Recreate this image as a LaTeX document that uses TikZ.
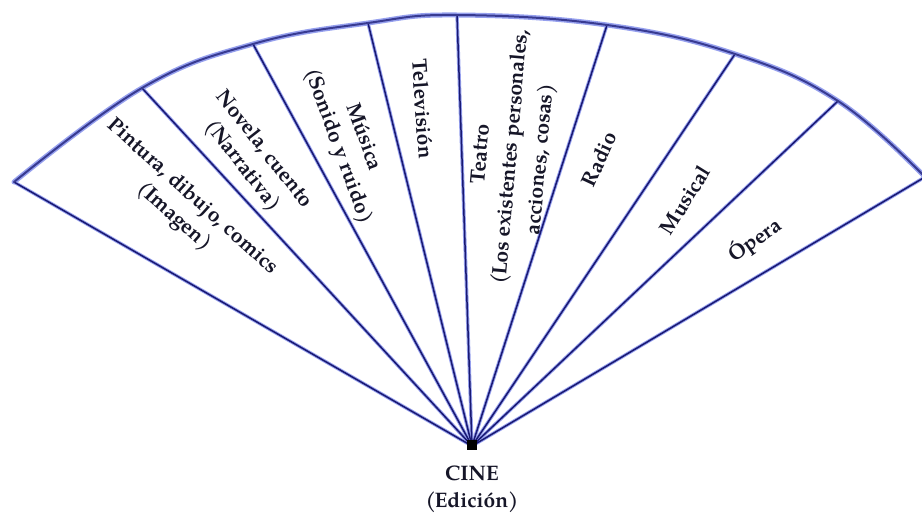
\documentclass[tikz,border=0pt]{standalone}
\usepackage{fontspec}
\setmainfont{TeX Gyre Pagella}
\definecolor{linec}{RGB}{25,25,115}
\definecolor{glowc}{RGB}{150,160,238}
\definecolor{textc}{RGB}{22,22,40}
\newcommand{\lp}{(\kern-0.06em}
\tikzset{
  rayglow/.style={draw=glowc, line width=3.4pt, line cap=round},
  raycore/.style={draw=linec, line width=1.5pt, line cap=round},
  arcglow/.style={draw=glowc, line width=5pt, line cap=round, line join=round},
  arccore/.style={draw=linec!75!glowc, line width=2pt, line cap=round, line join=round},
  lbl/.style={text=textc, font=\bfseries\fontsize{21}{27}\selectfont, align=center, inner sep=0pt}
}
\begin{document}
\begin{tikzpicture}[x=1pt,y=-1pt]
\useasboundingbox (0,0) rectangle (922,512);
\fill[white] (0,0) rectangle (922,512);
\coordinate (A) at (472,446);
\coordinate (P1) at (14,182);
\coordinate (P2) at (142,88);
\coordinate (P3) at (253,44);
\coordinate (P4) at (368,23);
\coordinate (P5) at (457,15);
\coordinate (P6) at (607,25);
\coordinate (P7) at (735,54);
\coordinate (P8) at (838,101);
\coordinate (P9) at (925,177);
% glow
\foreach \p in {P1,P2,P3,P4,P5,P6,P7,P8,P9} \draw[rayglow] (A) -- (\p);
\draw[arcglow] plot[smooth, tension=0.7] coordinates {(14,182) (142,88) (253,44) (368,23) (457,15) (607,25) (735,54) (838,101) (925,177)};
% core
\foreach \p in {P1,P2,P3,P4,P5,P6,P7,P8,P9} \draw[raycore] (A) -- (\p);
\draw[arccore] plot[smooth, tension=0.7] coordinates {(14,182) (142,88) (253,44) (368,23) (457,15) (607,25) (735,54) (838,101) (925,177)};
\fill[black] (467,440) rectangle (477,450);
% labels
\node[lbl, rotate=-42] (lPin) at (183,207) {Pintura, dibujo, comics\\\lp Imagen)};
\node[lbl, rotate=-52] (lNov) at (253,158) {Novela, cuento\\\lp Narrativa)};
\node[lbl, rotate=-70] (lMus) at (350,142) {Música\\\lp Sonido y ruido)};
\node[lbl, rotate=-86] (lTel) at (423,109) {Televisión};
\node[lbl, rotate=85, font=\bfseries\fontsize{21}{30}\selectfont] (lTea) at (512,157) {Teatro\\\lp Los existentes personales,\\acciones, cosas)};
\node[lbl, rotate=65] (lRad) at (599,159) {Radio};
\node[lbl, rotate=58] (lMsc) at (685,200) {Musical};
\node[lbl, rotate=35] (lOpe) at (755,240) {Ópera};
\node[lbl] (cine) at (472,489) {CINE\\\lp Edición)};
\end{tikzpicture}
\end{document}
